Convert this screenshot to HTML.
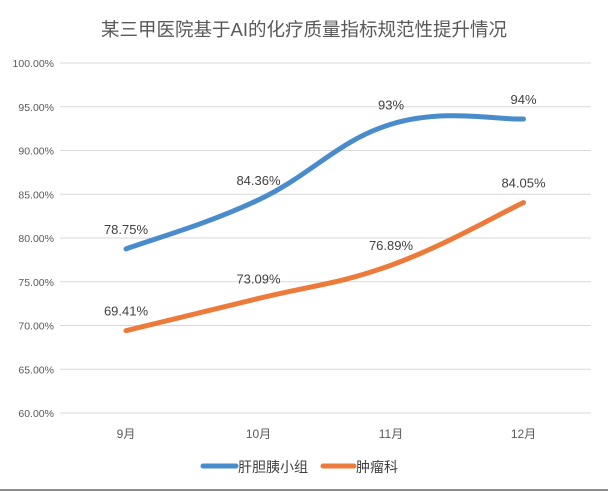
<!DOCTYPE html>
<html><head><meta charset="utf-8"><style>
body{margin:0;background:#fff;}
svg{display:block;font-family:"Liberation Sans","Noto Sans CJK SC",sans-serif;}
</style></head><body>
<svg width="608" height="491" viewBox="0 0 608 491">
<rect width="608" height="491" fill="#fff"/>
<text x="304" y="36" text-anchor="middle" font-size="18.5" fill="#595959">某三甲医院基于AI的化疗质量指标规范性提升情况</text>
<g id="grid"></g><g id="series"></g>
<g>
<line x1="203" y1="466" x2="236" y2="466" stroke="#4a8ccb" stroke-width="5" stroke-linecap="round"/>
<text x="238" y="472" font-size="14" fill="#404040">肝胆胰小组</text>
<line x1="323" y1="466" x2="354" y2="466" stroke="#ec7a3a" stroke-width="5" stroke-linecap="round"/>
<text x="356" y="472" font-size="14" fill="#404040">肿瘤科</text>
</g>
<line x1="0" y1="490" x2="608" y2="490" stroke="#666" stroke-width="1.5"/>
</svg>
<script>
const categories=["9月","10月","11月","12月"];
const liverValues=[78.75,84.36,93.0,93.6];
const liverLabels=["78.75%","84.36%","93%","94%"];
const oncoValues=[69.41,73.09,76.89,84.05];
const oncoLabels=["69.41%","73.09%","76.89%","84.05%"];
const yTicks=[60,65,70,75,80,85,90,95,100];
const NS="http://www.w3.org/2000/svg";
const x0=60,x1=591,yMin=60,yMax=100,py0=413,py1=63;
const xs=i=>126+i*132.5;
const ys=v=>py0-(v-yMin)/(yMax-yMin)*(py0-py1);
function mk(t,a,p){const e=document.createElementNS(NS,t);for(const k in a)e.setAttribute(k,a[k]);p.appendChild(e);return e;}
const g=document.getElementById('grid');
yTicks.forEach(v=>{
 const l=mk('line',{x1:x0,x2:x1,y1:ys(v),y2:ys(v),stroke:'#d9d9d9','stroke-width':1},g);
 
 
 const t=mk('text',{x:54,y:ys(v)+4,'text-anchor':'end','font-size':10.5,fill:'#595959'},g);
 t.textContent=v.toFixed(2)+'%';
 
 
});
categories.forEach((c,i)=>{
 const t=mk('text',{x:xs(i),y:438,'text-anchor':'middle','font-size':12,fill:'#595959'},g);
 t.textContent=c;
 
 
});
function path(vals){
 const p=vals.map((v,i)=>[xs(i),ys(v)]);
 let d='M'+p[0][0]+','+p[0][1];
 const k=0.2;
 for(let i=0;i<p.length-1;i++){
  const a=p[i-1]||p[i],b=p[i],c=p[i+1],e=p[i+2]||c;
  d+=' C'+(b[0]+(c[0]-a[0])*k)+','+(b[1]+(c[1]-a[1])*k)+' '+(c[0]-(e[0]-b[0])*k)+','+(c[1]-(e[1]-b[1])*k)+' '+c[0]+','+c[1];
 }
 return d;
}
const s=document.getElementById('series');
[[liverValues,liverLabels,'#4a8ccb','liver'],[oncoValues,oncoLabels,'#ec7a3a','oncology']].forEach(([vals,labs,col,nm])=>{
 const p=mk('path',{d:path(vals),fill:'none',stroke:col,'stroke-width':5,'stroke-linecap':'round'},s);
 
 
 vals.forEach((v,i)=>{
  const t=mk('text',{x:xs(i),y:ys(v)-15,'text-anchor':'middle','font-size':13,fill:'#404040'},s);
  t.textContent=labs[i];
  
  
 });
});
</script>
</body></html>
